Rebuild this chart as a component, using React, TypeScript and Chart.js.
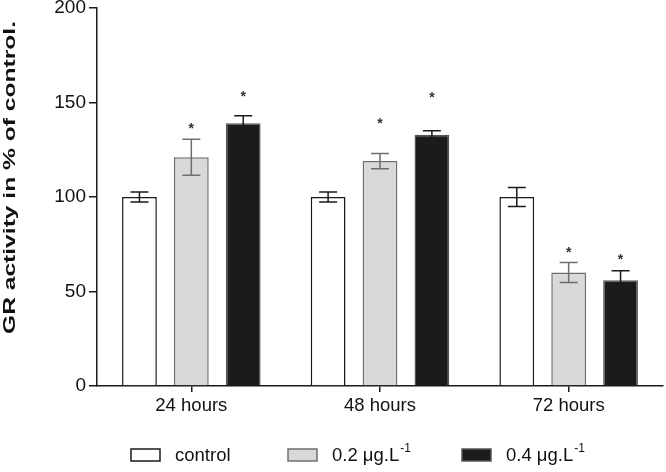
import React, { useEffect, useRef } from "react";
import { Chart, registerables } from "chart.js";

Chart.register(...registerables);

const categories = ["24 hours", "48 hours", "72 hours"];
const seriesNames = ["control", "0.2 μg.L", "0.4 μg.L"];
const seriesSup = ["", "-1", "-1"];
const controlValues = [100, 100, 100];
const low02Values = [121, 119, 60];
const high04Values = [139, 133, 56];
const controlErr = [2.6, 2.6, 5];
const low02Err = [9.5, 4, 5.3];
const high04Err = [4, 2, 5];
const controlStars = [null, null, null];
const low02Stars = [137.5, 140, 72];
const high04Stars = [154.5, 154, 68];
const yTicks = [0, 50, 100, 150, 200];
const yTitle = "GR activity in % of control.";

const FONT = "'Liberation Sans', Arial, sans-serif";

const fills = ["#ffffff", "#d9d9d9", "#1b1b1b"];
const borders = ["#1a1a1a", "#6e6e6e", "#555555"];
const errColors = ["#1a1a1a", "#6e6e6e", "#1a1a1a"];

const errors = [controlErr, low02Err, high04Err];
const stars = [controlStars, low02Stars, high04Stars];

const extrasPlugin = {
  id: "extras",
  afterDatasetsDraw(chart: any) {
    const ctx = chart.ctx;
    const y = chart.scales.y;
    ctx.save();
    chart.data.datasets.forEach((ds: any, i: number) => {
      const meta = chart.getDatasetMeta(i);
      meta.data.forEach((bar: any, j: number) => {
        const v = ds.data[j];
        const e = errors[i][j];
        const yt = y.getPixelForValue(v + e);
        const yb = y.getPixelForValue(v - e);
        const x = bar.x;
        ctx.strokeStyle = errColors[i];
        ctx.lineWidth = 1.5;
        ctx.beginPath();
        ctx.moveTo(x, yt);
        ctx.lineTo(x, yb);
        ctx.moveTo(x - 9, yt);
        ctx.lineTo(x + 9, yt);
        ctx.moveTo(x - 9, yb);
        ctx.lineTo(x + 9, yb);
        ctx.stroke();
        const s = stars[i][j];
        if (s !== null && s !== undefined) {
          ctx.fillStyle = "#333";
          ctx.font = `bold 14px ${FONT}`;
          ctx.textAlign = "center";
          ctx.textBaseline = "middle";
          ctx.fillText("*", x, y.getPixelForValue(s) + 3);
        }
      });
    });
    ctx.restore();
  },
  afterDraw(chart: any) {
    const ctx = chart.ctx;
    ctx.save();
    ctx.font = `bold 17px ${FONT}`;
    const w = ctx.measureText(yTitle).width;
    const k = 313 / w;
    ctx.translate(10, 177.5);
    ctx.rotate(-Math.PI / 2);
    ctx.scale(k, 1);
    ctx.fillStyle = "#111";
    ctx.textAlign = "center";
    ctx.textBaseline = "middle";
    ctx.fillText(yTitle, 0, 0);
    ctx.restore();

    ctx.save();
    const boxX = [131, 288, 462];
    const textX = [175, 332, 506];
    const boxY = 449;
    seriesNames.forEach((name, i) => {
      ctx.fillStyle = fills[i];
      ctx.fillRect(boxX[i], boxY, 29, 12);
      ctx.strokeStyle = borders[i];
      ctx.lineWidth = 1.5;
      ctx.strokeRect(boxX[i], boxY, 29, 12);
      ctx.fillStyle = "#111";
      ctx.font = `18.5px ${FONT}`;
      ctx.textAlign = "left";
      ctx.textBaseline = "middle";
      ctx.fillText(name, textX[i], boxY + 7);
      if (seriesSup[i]) {
        const tw = ctx.measureText(name).width;
        ctx.font = `12px ${FONT}`;
        ctx.fillText(seriesSup[i], textX[i] + tw + 1, boxY);
      }
    });
    ctx.restore();
  },
};

export default function App() {
  const ref = useRef<HTMLCanvasElement>(null);
  useEffect(() => {
    if (!ref.current) return;
    const values = [controlValues, low02Values, high04Values];
    const chart = new Chart(ref.current, {
      type: "bar",
      data: {
        labels: categories,
        datasets: seriesNames.map((n, i) => ({
          label: n,
          data: values[i],
          backgroundColor: fills[i],
          borderColor: borders[i],
          borderWidth: 1.5,
          categoryPercentage: 0.825,
          barPercentage: 0.67,
        })),
      },
      options: {
        animation: false,
        responsive: true,
        maintainAspectRatio: false,
        layout: { padding: { top: 8, right: 3, left: 0, bottom: 0 } },
        plugins: { legend: { display: false }, tooltip: { enabled: false } },
        scales: {
          x: {
            grid: {
              display: true,
              drawOnChartArea: false,
              drawTicks: true,
              offset: false,
              tickLength: 6,
              color: "#1a1a1a",
              lineWidth: 1.5,
            },
            border: { display: true, color: "#1a1a1a", width: 1.5 },
            ticks: {
              color: "#111",
              font: { family: FONT, size: 18.5 },
              padding: 3,
            },
            afterFit: (s: any) => {
              s.height = 86;
              s.paddingLeft = 0;
              s.paddingRight = 0;
            },
          },
          y: {
            min: 0,
            max: 200,
            afterBuildTicks: (s: any) => {
              s.ticks = yTicks.map((v) => ({ value: v }));
            },
            grid: {
              display: true,
              drawOnChartArea: false,
              drawTicks: true,
              tickLength: 8,
              color: "#1a1a1a",
              lineWidth: 1.5,
            },
            border: { display: true, color: "#1a1a1a", width: 1.5 },
            ticks: {
              color: "#111",
              font: { family: FONT, size: 19 },
              padding: 3,
            },
            afterFit: (s: any) => {
              s.width = 97;
              s.paddingTop = 0;
              s.paddingBottom = 0;
            },
          },
        },
      },
      plugins: [extrasPlugin],
    });
    return () => chart.destroy();
  }, []);
  return (
    <div style={{ position: "fixed", left: 0, top: 0, width: 666, height: 472, background: "#fff" }}>
      <canvas ref={ref} />
    </div>
  );
}
